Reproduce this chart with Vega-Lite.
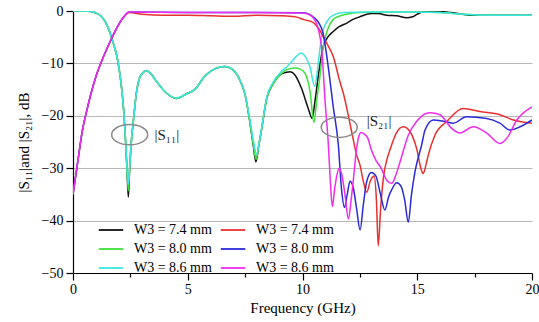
{
  "$schema": "https://vega.github.io/schema/vega-lite/v6.json",
  "width": 459,
  "height": 262,
  "autosize": {"type": "none"},
  "padding": {"left": 73, "top": 11, "right": 7, "bottom": 49},
  "background": "white",
  "config": {
    "view": {"stroke": null},
    "axis": {
      "domainColor": "#000000",
      "domainWidth": 1.2,
      "tickColor": "#000000",
      "tickWidth": 1.2,
      "labelFont": "Liberation Serif",
      "labelFontSize": 14,
      "labelColor": "#000000",
      "titleFont": "Liberation Serif",
      "titleFontSize": 15,
      "titleFontWeight": "normal",
      "titleColor": "#000000"
    }
  },
  "datasets": {
    "curves": [
      {"k":"S11 7.4","f":0,"v":0},{"k":"S11 7.4","f":0.5,"v":0},{"k":"S11 7.4","f":0.8,"v":-0.1},{"k":"S11 7.4","f":1.0,"v":-0.4},{"k":"S11 7.4","f":1.2,"v":-0.9},{"k":"S11 7.4","f":1.4,"v":-2.0},{"k":"S11 7.4","f":1.6,"v":-4},{"k":"S11 7.4","f":1.8,"v":-6.8},{"k":"S11 7.4","f":1.9,"v":-8.4},{"k":"S11 7.4","f":2.0,"v":-10.8},{"k":"S11 7.4","f":2.1,"v":-14},{"k":"S11 7.4","f":2.2,"v":-18.5},{"k":"S11 7.4","f":2.28,"v":-24},{"k":"S11 7.4","f":2.35,"v":-30},{"k":"S11 7.4","f":2.41,"v":-35.5},{"k":"S11 7.4","f":2.47,"v":-30},{"k":"S11 7.4","f":2.55,"v":-24.5},{"k":"S11 7.4","f":2.63,"v":-21},{"k":"S11 7.4","f":2.77,"v":-15.4},{"k":"S11 7.4","f":2.9,"v":-12.8},{"k":"S11 7.4","f":3.0,"v":-12},{"k":"S11 7.4","f":3.2,"v":-11.4},{"k":"S11 7.4","f":3.4,"v":-12},{"k":"S11 7.4","f":3.65,"v":-13.5},{"k":"S11 7.4","f":4.08,"v":-15.7},{"k":"S11 7.4","f":4.5,"v":-16.7},{"k":"S11 7.4","f":4.95,"v":-15.8},{"k":"S11 7.4","f":5.3,"v":-15},{"k":"S11 7.4","f":5.75,"v":-12.4},{"k":"S11 7.4","f":6.2,"v":-11},{"k":"S11 7.4","f":6.6,"v":-10.6},{"k":"S11 7.4","f":7.05,"v":-11.6},{"k":"S11 7.4","f":7.3,"v":-13.5},{"k":"S11 7.4","f":7.5,"v":-16},{"k":"S11 7.4","f":7.7,"v":-21},{"k":"S11 7.4","f":7.85,"v":-25.5},{"k":"S11 7.4","f":7.97,"v":-28.8},{"k":"S11 7.4","f":8.1,"v":-25.5},{"k":"S11 7.4","f":8.22,"v":-22.5},{"k":"S11 7.4","f":8.44,"v":-16.7},{"k":"S11 7.4","f":8.73,"v":-13.8},{"k":"S11 7.4","f":9.09,"v":-12},{"k":"S11 7.4","f":9.3,"v":-11.7},{"k":"S11 7.4","f":9.46,"v":-11.6},{"k":"S11 7.4","f":9.67,"v":-12.2},{"k":"S11 7.4","f":9.96,"v":-14.8},{"k":"S11 7.4","f":10.25,"v":-18.6},{"k":"S11 7.4","f":10.42,"v":-20.5},{"k":"S11 7.4","f":10.55,"v":-17},{"k":"S11 7.4","f":10.7,"v":-12},{"k":"S11 7.4","f":10.9,"v":-6.8},{"k":"S11 7.4","f":11.1,"v":-5},{"k":"S11 7.4","f":11.34,"v":-3.9},{"k":"S11 7.4","f":11.6,"v":-3},{"k":"S11 7.4","f":11.93,"v":-2.3},{"k":"S11 7.4","f":12.2,"v":-1.6},{"k":"S11 7.4","f":12.5,"v":-1.1},{"k":"S11 7.4","f":13.0,"v":-0.5},{"k":"S11 7.4","f":13.3,"v":-0.5},{"k":"S11 7.4","f":13.67,"v":-0.8},{"k":"S11 7.4","f":14.1,"v":-0.9},{"k":"S11 7.4","f":14.54,"v":-1.3},{"k":"S11 7.4","f":14.8,"v":-1.1},{"k":"S11 7.4","f":15.0,"v":-0.6},{"k":"S11 7.4","f":15.3,"v":-0.1},{"k":"S11 7.4","f":15.9,"v":-0.1},{"k":"S11 7.4","f":16.5,"v":-0.3},{"k":"S11 7.4","f":17.3,"v":-0.8},{"k":"S11 7.4","f":18.5,"v":-0.8},{"k":"S11 7.4","f":20,"v":-0.8},

      {"k":"S11 8.0","f":0,"v":0},{"k":"S11 8.0","f":0.5,"v":0},{"k":"S11 8.0","f":0.8,"v":-0.1},{"k":"S11 8.0","f":1.0,"v":-0.4},{"k":"S11 8.0","f":1.2,"v":-0.9},{"k":"S11 8.0","f":1.4,"v":-2.0},{"k":"S11 8.0","f":1.6,"v":-4},{"k":"S11 8.0","f":1.8,"v":-6.8},{"k":"S11 8.0","f":1.9,"v":-8.4},{"k":"S11 8.0","f":2.0,"v":-10.8},{"k":"S11 8.0","f":2.1,"v":-14},{"k":"S11 8.0","f":2.2,"v":-18.5},{"k":"S11 8.0","f":2.28,"v":-24},{"k":"S11 8.0","f":2.35,"v":-30},{"k":"S11 8.0","f":2.41,"v":-34.3},{"k":"S11 8.0","f":2.47,"v":-30},{"k":"S11 8.0","f":2.55,"v":-24.5},{"k":"S11 8.0","f":2.63,"v":-21},{"k":"S11 8.0","f":2.77,"v":-15.4},{"k":"S11 8.0","f":2.9,"v":-12.8},{"k":"S11 8.0","f":3.0,"v":-12},{"k":"S11 8.0","f":3.2,"v":-11.4},{"k":"S11 8.0","f":3.4,"v":-12},{"k":"S11 8.0","f":3.65,"v":-13.5},{"k":"S11 8.0","f":4.08,"v":-15.7},{"k":"S11 8.0","f":4.5,"v":-16.7},{"k":"S11 8.0","f":4.95,"v":-15.8},{"k":"S11 8.0","f":5.3,"v":-15},{"k":"S11 8.0","f":5.75,"v":-12.4},{"k":"S11 8.0","f":6.2,"v":-11},{"k":"S11 8.0","f":6.6,"v":-10.6},{"k":"S11 8.0","f":7.05,"v":-11.6},{"k":"S11 8.0","f":7.3,"v":-13.5},{"k":"S11 8.0","f":7.5,"v":-16},{"k":"S11 8.0","f":7.7,"v":-21},{"k":"S11 8.0","f":7.85,"v":-25.3},{"k":"S11 8.0","f":7.98,"v":-28.3},{"k":"S11 8.0","f":8.1,"v":-25.5},{"k":"S11 8.0","f":8.22,"v":-22.5},{"k":"S11 8.0","f":8.44,"v":-16.7},{"k":"S11 8.0","f":8.73,"v":-13.8},{"k":"S11 8.0","f":9.09,"v":-11.9},{"k":"S11 8.0","f":9.3,"v":-11.2},{"k":"S11 8.0","f":9.67,"v":-10.9},{"k":"S11 8.0","f":9.9,"v":-11.1},{"k":"S11 8.0","f":10.1,"v":-11.8},{"k":"S11 8.0","f":10.33,"v":-15.4},{"k":"S11 8.0","f":10.5,"v":-21.3},{"k":"S11 8.0","f":10.62,"v":-17},{"k":"S11 8.0","f":10.76,"v":-12.5},{"k":"S11 8.0","f":10.9,"v":-7},{"k":"S11 8.0","f":11.1,"v":-3.5},{"k":"S11 8.0","f":11.34,"v":-1.6},{"k":"S11 8.0","f":11.6,"v":-1},{"k":"S11 8.0","f":11.93,"v":-0.6},{"k":"S11 8.0","f":12.5,"v":-0.3},{"k":"S11 8.0","f":13.5,"v":-0.2},{"k":"S11 8.0","f":15,"v":-0.2},{"k":"S11 8.0","f":16,"v":-0.3},{"k":"S11 8.0","f":17,"v":-0.6},{"k":"S11 8.0","f":18,"v":-0.8},{"k":"S11 8.0","f":20,"v":-0.8},

      {"k":"S11 8.6","f":0,"v":0},{"k":"S11 8.6","f":0.5,"v":0},{"k":"S11 8.6","f":0.8,"v":-0.1},{"k":"S11 8.6","f":1.0,"v":-0.4},{"k":"S11 8.6","f":1.2,"v":-0.9},{"k":"S11 8.6","f":1.4,"v":-2.0},{"k":"S11 8.6","f":1.6,"v":-4},{"k":"S11 8.6","f":1.8,"v":-6.8},{"k":"S11 8.6","f":1.9,"v":-8.4},{"k":"S11 8.6","f":2.0,"v":-10.8},{"k":"S11 8.6","f":2.1,"v":-14},{"k":"S11 8.6","f":2.2,"v":-18.5},{"k":"S11 8.6","f":2.28,"v":-24},{"k":"S11 8.6","f":2.35,"v":-29.5},{"k":"S11 8.6","f":2.41,"v":-33},{"k":"S11 8.6","f":2.47,"v":-29.5},{"k":"S11 8.6","f":2.55,"v":-24.5},{"k":"S11 8.6","f":2.63,"v":-21},{"k":"S11 8.6","f":2.77,"v":-15.4},{"k":"S11 8.6","f":2.9,"v":-12.8},{"k":"S11 8.6","f":3.0,"v":-12},{"k":"S11 8.6","f":3.2,"v":-11.4},{"k":"S11 8.6","f":3.4,"v":-12},{"k":"S11 8.6","f":3.65,"v":-13.5},{"k":"S11 8.6","f":4.08,"v":-15.7},{"k":"S11 8.6","f":4.5,"v":-16.6},{"k":"S11 8.6","f":4.95,"v":-15.8},{"k":"S11 8.6","f":5.3,"v":-15},{"k":"S11 8.6","f":5.75,"v":-12.4},{"k":"S11 8.6","f":6.2,"v":-11},{"k":"S11 8.6","f":6.6,"v":-10.6},{"k":"S11 8.6","f":7.05,"v":-11.6},{"k":"S11 8.6","f":7.3,"v":-13.5},{"k":"S11 8.6","f":7.5,"v":-16},{"k":"S11 8.6","f":7.7,"v":-20.5},{"k":"S11 8.6","f":7.87,"v":-25},{"k":"S11 8.6","f":8.0,"v":-27.3},{"k":"S11 8.6","f":8.12,"v":-25},{"k":"S11 8.6","f":8.25,"v":-21.5},{"k":"S11 8.6","f":8.44,"v":-16.5},{"k":"S11 8.6","f":8.73,"v":-13.5},{"k":"S11 8.6","f":9.09,"v":-11.5},{"k":"S11 8.6","f":9.38,"v":-10.4},{"k":"S11 8.6","f":9.7,"v":-8.8},{"k":"S11 8.6","f":9.93,"v":-8.0},{"k":"S11 8.6","f":10.15,"v":-8.9},{"k":"S11 8.6","f":10.32,"v":-10.6},{"k":"S11 8.6","f":10.53,"v":-14.4},{"k":"S11 8.6","f":10.66,"v":-11},{"k":"S11 8.6","f":10.78,"v":-6.5},{"k":"S11 8.6","f":10.9,"v":-3.6},{"k":"S11 8.6","f":11.1,"v":-1.8},{"k":"S11 8.6","f":11.34,"v":-0.8},{"k":"S11 8.6","f":11.78,"v":-0.3},{"k":"S11 8.6","f":13,"v":-0.2},{"k":"S11 8.6","f":15,"v":-0.2},{"k":"S11 8.6","f":16,"v":-0.3},{"k":"S11 8.6","f":17,"v":-0.6},{"k":"S11 8.6","f":18,"v":-0.8},{"k":"S11 8.6","f":20,"v":-0.8},

      {"k":"S21 7.4","f":0,"v":-35},{"k":"S21 7.4","f":0.2,"v":-29},{"k":"S21 7.4","f":0.4,"v":-23},{"k":"S21 7.4","f":0.6,"v":-19},{"k":"S21 7.4","f":0.8,"v":-15.5},{"k":"S21 7.4","f":1.0,"v":-12.5},{"k":"S21 7.4","f":1.3,"v":-9},{"k":"S21 7.4","f":1.6,"v":-6},{"k":"S21 7.4","f":1.9,"v":-3.3},{"k":"S21 7.4","f":2.2,"v":-1.2},{"k":"S21 7.4","f":2.45,"v":-0.3},{"k":"S21 7.4","f":3.0,"v":-0.6},{"k":"S21 7.4","f":4,"v":-0.8},{"k":"S21 7.4","f":5,"v":-0.8},{"k":"S21 7.4","f":6,"v":-0.9},{"k":"S21 7.4","f":7,"v":-1.0},{"k":"S21 7.4","f":8,"v":-0.8},{"k":"S21 7.4","f":9,"v":-0.9},{"k":"S21 7.4","f":9.67,"v":-1.1},{"k":"S21 7.4","f":10.1,"v":-1.7},{"k":"S21 7.4","f":10.47,"v":-2.2},{"k":"S21 7.4","f":10.7,"v":-3.3},{"k":"S21 7.4","f":10.9,"v":-4.9},{"k":"S21 7.4","f":11.1,"v":-6.5},{"k":"S21 7.4","f":11.34,"v":-8.7},{"k":"S21 7.4","f":11.63,"v":-13.5},{"k":"S21 7.4","f":11.78,"v":-15.7},{"k":"S21 7.4","f":12.07,"v":-21.5},{"k":"S21 7.4","f":12.21,"v":-24.5},{"k":"S21 7.4","f":12.36,"v":-27.5},{"k":"S21 7.4","f":12.51,"v":-29.5},{"k":"S21 7.4","f":12.65,"v":-32.5},{"k":"S21 7.4","f":12.8,"v":-34.6},{"k":"S21 7.4","f":12.95,"v":-32.5},{"k":"S21 7.4","f":13.12,"v":-31.5},{"k":"S21 7.4","f":13.22,"v":-36},{"k":"S21 7.4","f":13.3,"v":-44.8},{"k":"S21 7.4","f":13.4,"v":-38},{"k":"S21 7.4","f":13.52,"v":-32},{"k":"S21 7.4","f":13.7,"v":-28},{"k":"S21 7.4","f":13.81,"v":-26.5},{"k":"S21 7.4","f":14.1,"v":-23.2},{"k":"S21 7.4","f":14.39,"v":-22.1},{"k":"S21 7.4","f":14.68,"v":-23},{"k":"S21 7.4","f":14.97,"v":-26.2},{"k":"S21 7.4","f":15.19,"v":-30.5},{"k":"S21 7.4","f":15.26,"v":-31},{"k":"S21 7.4","f":15.4,"v":-29},{"k":"S21 7.4","f":15.48,"v":-27.5},{"k":"S21 7.4","f":15.77,"v":-23.7},{"k":"S21 7.4","f":16.28,"v":-21.1},{"k":"S21 7.4","f":17.0,"v":-18.6},{"k":"S21 7.4","f":17.73,"v":-19.2},{"k":"S21 7.4","f":18.6,"v":-19.8},{"k":"S21 7.4","f":19.19,"v":-20.8},{"k":"S21 7.4","f":20,"v":-21.4},

      {"k":"S21 8.0","f":0,"v":-35},{"k":"S21 8.0","f":0.2,"v":-29},{"k":"S21 8.0","f":0.4,"v":-23},{"k":"S21 8.0","f":0.6,"v":-19},{"k":"S21 8.0","f":0.8,"v":-15.5},{"k":"S21 8.0","f":1.0,"v":-12.5},{"k":"S21 8.0","f":1.3,"v":-9},{"k":"S21 8.0","f":1.6,"v":-6},{"k":"S21 8.0","f":1.9,"v":-3.3},{"k":"S21 8.0","f":2.2,"v":-1.2},{"k":"S21 8.0","f":2.45,"v":-0.2},{"k":"S21 8.0","f":5,"v":-0.3},{"k":"S21 8.0","f":8,"v":-0.3},{"k":"S21 8.0","f":10,"v":-0.35},{"k":"S21 8.0","f":10.24,"v":-0.5},{"k":"S21 8.0","f":10.54,"v":-1.4},{"k":"S21 8.0","f":10.7,"v":-2.2},{"k":"S21 8.0","f":10.9,"v":-4.3},{"k":"S21 8.0","f":11.12,"v":-10.6},{"k":"S21 8.0","f":11.34,"v":-18.3},{"k":"S21 8.0","f":11.56,"v":-25.5},{"k":"S21 8.0","f":11.7,"v":-34},{"k":"S21 8.0","f":11.83,"v":-37.5},{"k":"S21 8.0","f":11.95,"v":-35},{"k":"S21 8.0","f":12.07,"v":-32.5},{"k":"S21 8.0","f":12.2,"v":-33.5},{"k":"S21 8.0","f":12.35,"v":-37.5},{"k":"S21 8.0","f":12.51,"v":-41.8},{"k":"S21 8.0","f":12.65,"v":-37},{"k":"S21 8.0","f":12.8,"v":-32.5},{"k":"S21 8.0","f":13.0,"v":-30.8},{"k":"S21 8.0","f":13.2,"v":-31.5},{"k":"S21 8.0","f":13.4,"v":-35},{"k":"S21 8.0","f":13.59,"v":-38},{"k":"S21 8.0","f":13.75,"v":-35.5},{"k":"S21 8.0","f":13.9,"v":-34},{"k":"S21 8.0","f":14.1,"v":-32.8},{"k":"S21 8.0","f":14.3,"v":-33.5},{"k":"S21 8.0","f":14.45,"v":-36},{"k":"S21 8.0","f":14.61,"v":-40.3},{"k":"S21 8.0","f":14.75,"v":-35},{"k":"S21 8.0","f":14.9,"v":-30.7},{"k":"S21 8.0","f":15.19,"v":-25.6},{"k":"S21 8.0","f":15.34,"v":-22.7},{"k":"S21 8.0","f":15.7,"v":-20.8},{"k":"S21 8.0","f":16.2,"v":-21.1},{"k":"S21 8.0","f":16.57,"v":-21.4},{"k":"S21 8.0","f":17.15,"v":-20.2},{"k":"S21 8.0","f":18.03,"v":-20.5},{"k":"S21 8.0","f":18.6,"v":-21.4},{"k":"S21 8.0","f":19.04,"v":-22.7},{"k":"S21 8.0","f":19.48,"v":-22.1},{"k":"S21 8.0","f":20,"v":-20.8},

      {"k":"S21 8.6","f":0,"v":-35},{"k":"S21 8.6","f":0.2,"v":-29},{"k":"S21 8.6","f":0.4,"v":-23},{"k":"S21 8.6","f":0.6,"v":-19},{"k":"S21 8.6","f":0.8,"v":-15.5},{"k":"S21 8.6","f":1.0,"v":-12.5},{"k":"S21 8.6","f":1.3,"v":-9},{"k":"S21 8.6","f":1.6,"v":-6},{"k":"S21 8.6","f":1.9,"v":-3.3},{"k":"S21 8.6","f":2.2,"v":-1.2},{"k":"S21 8.6","f":2.45,"v":-0.2},{"k":"S21 8.6","f":5,"v":-0.3},{"k":"S21 8.6","f":8,"v":-0.3},{"k":"S21 8.6","f":10,"v":-0.4},{"k":"S21 8.6","f":10.33,"v":-0.8},{"k":"S21 8.6","f":10.5,"v":-1.5},{"k":"S21 8.6","f":10.62,"v":-2.5},{"k":"S21 8.6","f":10.84,"v":-7.4},{"k":"S21 8.6","f":10.98,"v":-17},{"k":"S21 8.6","f":11.12,"v":-25},{"k":"S21 8.6","f":11.22,"v":-33},{"k":"S21 8.6","f":11.3,"v":-37.3},{"k":"S21 8.6","f":11.4,"v":-34},{"k":"S21 8.6","f":11.49,"v":-31.5},{"k":"S21 8.6","f":11.6,"v":-30},{"k":"S21 8.6","f":11.7,"v":-31},{"k":"S21 8.6","f":11.85,"v":-35},{"k":"S21 8.6","f":12.0,"v":-39.7},{"k":"S21 8.6","f":12.12,"v":-36},{"k":"S21 8.6","f":12.22,"v":-32},{"k":"S21 8.6","f":12.35,"v":-26.5},{"k":"S21 8.6","f":12.45,"v":-24},{"k":"S21 8.6","f":12.55,"v":-23.2},{"k":"S21 8.6","f":12.7,"v":-23.5},{"k":"S21 8.6","f":12.85,"v":-24.3},{"k":"S21 8.6","f":13.0,"v":-26.5},{"k":"S21 8.6","f":13.2,"v":-28.5},{"k":"S21 8.6","f":13.4,"v":-29.8},{"k":"S21 8.6","f":13.67,"v":-32.3},{"k":"S21 8.6","f":13.89,"v":-32.9},{"k":"S21 8.6","f":14.05,"v":-31.5},{"k":"S21 8.6","f":14.25,"v":-28.8},{"k":"S21 8.6","f":14.61,"v":-23.7},{"k":"S21 8.6","f":14.97,"v":-21.1},{"k":"S21 8.6","f":15.41,"v":-19.5},{"k":"S21 8.6","f":15.56,"v":-19.4},{"k":"S21 8.6","f":15.99,"v":-19.8},{"k":"S21 8.6","f":16.5,"v":-22.4},{"k":"S21 8.6","f":16.86,"v":-23.3},{"k":"S21 8.6","f":17.44,"v":-22.1},{"k":"S21 8.6","f":18.03,"v":-23.3},{"k":"S21 8.6","f":18.6,"v":-25.3},{"k":"S21 8.6","f":18.9,"v":-24.3},{"k":"S21 8.6","f":19.34,"v":-20.8},{"k":"S21 8.6","f":20,"v":-18.3}
    ],
    "ellipses": [{"f": 2.47, "v": -23.6}, {"f": 11.6, "v": -22.2}],
    "labels": [{"f": 3.55, "v": -23.6, "t": "|S₁₁|"}, {"f": 12.8, "v": -21.0, "t": "|S₂₁|"}]
  },
  "layer": [
    {
      "data": {"name": "curves"},
      "mark": {"type": "line", "interpolate": "monotone", "strokeWidth": 1.5, "clip": true},
      "encoding": {
        "x": {
          "field": "f", "type": "quantitative",
          "scale": {"domain": [0, 20], "nice": false},
          "axis": {
            "title": "Frequency (GHz)",
            "values": [0, 2.5, 5, 7.5, 10, 12.5, 15, 17.5, 20],
            "labelExpr": "datum.value % 5 == 0 ? datum.label : ''",
            "labelFont": "Liberation Serif",
            "labelFontSize": 14,
            "titleFont": "Liberation Serif",
            "tickSize": {"condition": {"test": "datum.value % 5 == 0", "value": 7}, "value": 4},
            "grid": false,
            "labelPadding": 2,
            "titlePadding": 4,
            "labelFlush": false
          }
        },
        "y": {
          "field": "v", "type": "quantitative",
          "scale": {"domain": [-50, 0], "nice": false},
          "axis": {
            "title": "|S₁₁|and |S₂₁|, dB",
            "values": [-50, -45, -40, -35, -30, -25, -20, -15, -10, -5, 0],
            "labelExpr": "datum.value % 10 == 0 ? datum.label : ''",
            "labelFont": "Liberation Serif",
            "labelFontSize": 14,
            "titleFont": "Liberation Serif",
            "tickSize": {"condition": {"test": "datum.value % 10 == 0", "value": 7}, "value": 4},
            "grid": true,
            "gridColor": "#b8b8b8",
            "gridWidth": 1,
            "gridOpacity": {"condition": {"test": "datum.value % 10 == 0 && datum.value > -50 && datum.value < 0", "value": 1}, "value": 0},
            "labelPadding": 3,
            "titlePadding": 10,
            "labelFlush": false
          }
        },
        "color": {
          "field": "k", "type": "nominal",
          "scale": {
            "domain": ["S11 7.4", "S21 7.4", "S11 8.0", "S21 8.0", "S11 8.6", "S21 8.6"],
            "range": ["#111111", "#e8302e", "#3fe03f", "#2a2ad6", "#3ee6e0", "#ef2cef"]
          },
          "legend": {
            "title": null,
            "orient": "none",
            "legendX": 31,
            "legendY": 212,
            "columns": 2,
            "direction": "horizontal",
            "symbolType": "M-2.45,0L2.45,0",
            "symbolSize": 100,
            "symbolStrokeWidth": 1.8,
            "labelFont": "Liberation Serif",
            "labelFontSize": 14,
            "labelColor": "#000000",
            "labelOffset": 16,
            "columnPadding": 5,
            "rowPadding": 5,
            "labelExpr": "'W3 = ' + slice(datum.label, 4) + ' mm'"
          }
        }
      }
    },
    {
      "data": {"name": "ellipses"},
      "mark": {"type": "point", "shape": "M-1,0A1,0.56,0,1,1,1,0A1,0.56,0,1,1,-1,0Z", "size": 1300, "stroke": "#8a8a8a", "strokeWidth": 1.5, "filled": false, "opacity": 1},
      "encoding": {
        "x": {"field": "f", "type": "quantitative"},
        "y": {"field": "v", "type": "quantitative"}
      }
    },
    {
      "data": {"name": "labels"},
      "mark": {"type": "text", "align": "left", "baseline": "middle", "font": "Liberation Serif", "fontSize": 15, "color": "#222222"},
      "encoding": {
        "x": {"field": "f", "type": "quantitative"},
        "y": {"field": "v", "type": "quantitative"},
        "text": {"field": "t"}
      }
    }
  ]
}
